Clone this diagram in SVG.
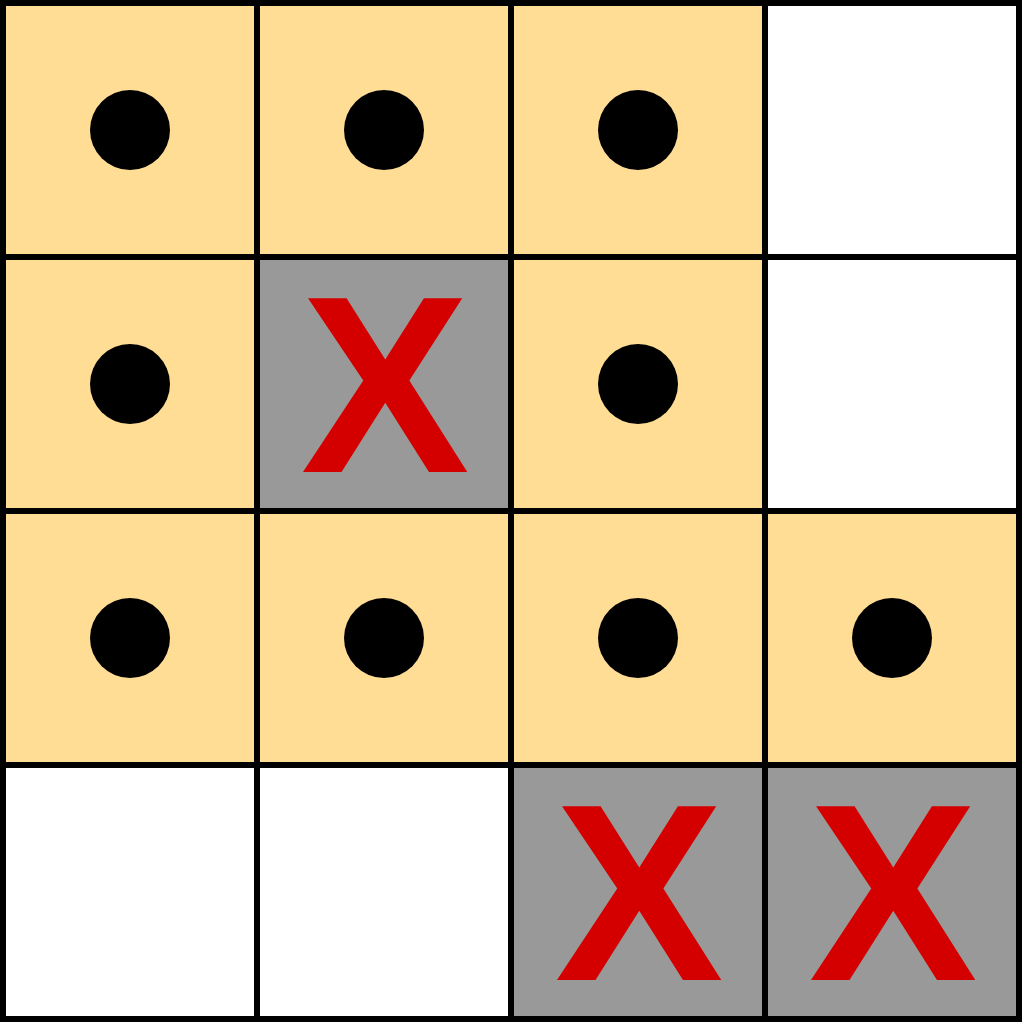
<svg xmlns="http://www.w3.org/2000/svg" width="1024" height="1024" viewBox="0 0 1024 1024">
<style>
.y{fill:#ffdd95}
.g{fill:#999999}
.w{fill:#ffffff}
.d{fill:#000000}
.x{fill:#d40000;font-family:"Liberation Sans",Arial,sans-serif;font-weight:bold;font-size:253px;text-anchor:middle}
.grid{stroke:#000;stroke-width:6;fill:none}
</style>
<rect width="1024" height="1024" fill="#fff"/>
<g id="r0c0"><rect class="y" x="3" y="3" width="254" height="254"/><circle class="d" cx="130" cy="130" r="40"/></g>
<g id="r0c1"><rect class="y" x="257" y="3" width="254" height="254"/><circle class="d" cx="384" cy="130" r="40"/></g>
<g id="r0c2"><rect class="y" x="511" y="3" width="254" height="254"/><circle class="d" cx="638" cy="130" r="40"/></g>
<g id="r0c3"><rect class="w" x="765" y="3" width="254" height="254"/></g>
<g id="r1c0"><rect class="y" x="3" y="257" width="254" height="254"/><circle class="d" cx="130" cy="384" r="40"/></g>
<g id="r1c1"><rect class="g" x="257" y="257" width="254" height="254"/><text class="x" x="385" y="472">X</text></g>
<g id="r1c2"><rect class="y" x="511" y="257" width="254" height="254"/><circle class="d" cx="638" cy="384" r="40"/></g>
<g id="r1c3"><rect class="w" x="765" y="257" width="254" height="254"/></g>
<g id="r2c0"><rect class="y" x="3" y="511" width="254" height="254"/><circle class="d" cx="130" cy="638" r="40"/></g>
<g id="r2c1"><rect class="y" x="257" y="511" width="254" height="254"/><circle class="d" cx="384" cy="638" r="40"/></g>
<g id="r2c2"><rect class="y" x="511" y="511" width="254" height="254"/><circle class="d" cx="638" cy="638" r="40"/></g>
<g id="r2c3"><rect class="y" x="765" y="511" width="254" height="254"/><circle class="d" cx="892" cy="638" r="40"/></g>
<g id="r3c0"><rect class="w" x="3" y="765" width="254" height="254"/></g>
<g id="r3c1"><rect class="w" x="257" y="765" width="254" height="254"/></g>
<g id="r3c2"><rect class="g" x="511" y="765" width="254" height="254"/><text class="x" x="639" y="980">X</text></g>
<g id="r3c3"><rect class="g" x="765" y="765" width="254" height="254"/><text class="x" x="893" y="980">X</text></g>
<g id="grid" class="grid">
<path d="M3 3V1019M257 3V1019M511 3V1019M765 3V1019M1019 3V1019M0 3H1022M0 257H1022M0 511H1022M0 765H1022M0 1019H1022"/>
</g>
</svg>
